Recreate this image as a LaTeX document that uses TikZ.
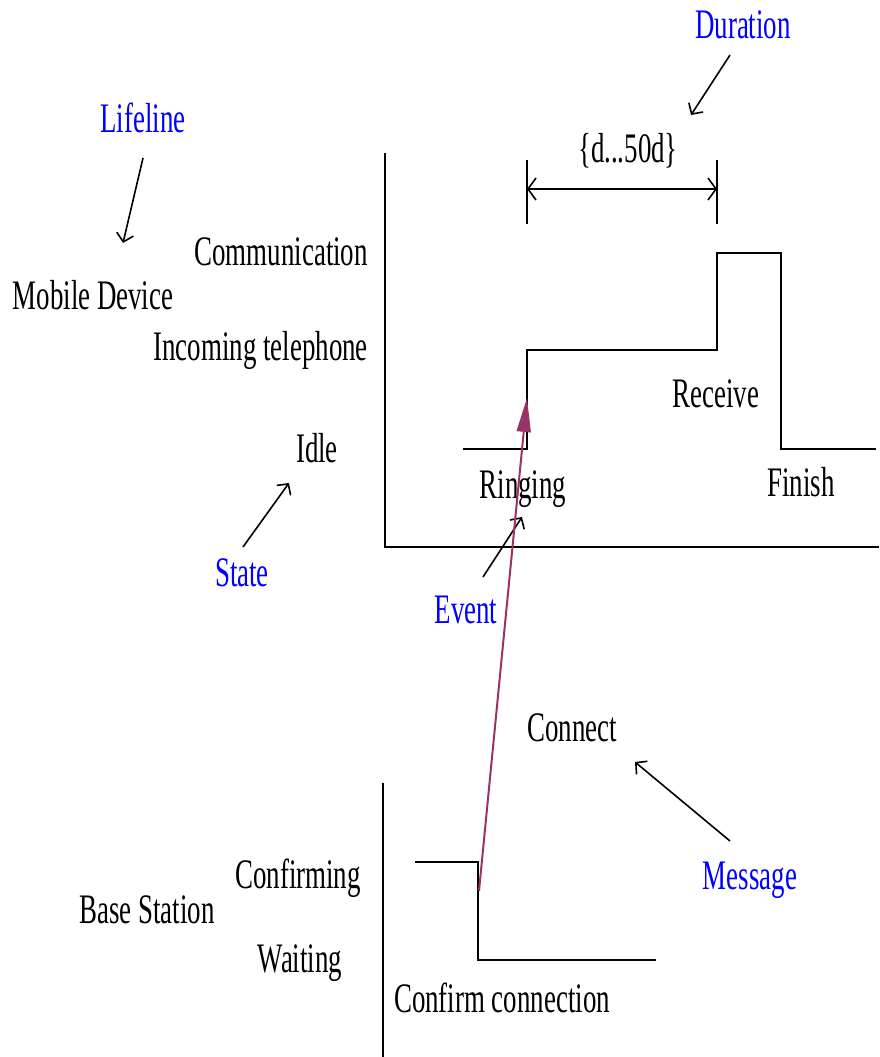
\documentclass[tikz,border=0pt]{standalone}
\usepackage{fontspec}
\setmainfont{Liberation Serif}[FakeStretch=0.64]
\usetikzlibrary{arrows.meta}
\definecolor{msgc}{HTML}{993366}
\begin{document}
\begin{tikzpicture}[x=1pt,y=-1pt,
  lbl/.style={font=\fontsize{42}{48}\selectfont, inner sep=0pt},
  note/.style={lbl, text=blue},
  wave/.style={line width=2pt, line join=miter},
  axis/.style={line width=2pt},
  ptr/.style={line width=1.6pt, -{Straight Barb[length=8pt,width=17pt,line width=1.6pt]}},
  dim/.style={line width=1.6pt, {Straight Barb[length=8pt,width=22pt,line width=1.6pt]}-{Straight Barb[length=8pt,width=22pt,line width=1.6pt]}},
  msg/.style={line width=2pt, draw=msgc, -{Triangle[length=34pt,width=14pt,fill=msgc]}}]
\useasboundingbox (0,0) rectangle (879,1057);
% axes
\coordinate (tA) at (385,153);
\coordinate (tO) at (385,547);
\coordinate (tX) at (879,547);
\draw[axis] (tA) -- (tO) -- (tX);
\coordinate (bA) at (383,783);
\coordinate (bO) at (383,1057);
\draw[axis] (bA) -- (bO);
% mobile device waveform
\coordinate (m0) at (463,449);
\coordinate (m1) at (527,449);
\coordinate (m2) at (527,350);
\coordinate (m3) at (717,350);
\coordinate (m4) at (717,253);
\coordinate (m5) at (781,253);
\coordinate (m6) at (781,449);
\coordinate (m7) at (876,449);
\draw[wave] (m0) -- (m1) -- (m2) -- (m3) -- (m4) -- (m5) -- (m6) -- (m7);
% base station waveform
\coordinate (b0) at (415,862);
\coordinate (b1) at (478,862);
\coordinate (b2) at (478,960);
\coordinate (b3) at (656,960);
\draw[wave] (b0) -- (b1) -- (b2) -- (b3);
% duration
\coordinate (d1t) at (527,160);
\coordinate (d1b) at (527,224);
\coordinate (d2t) at (717,160);
\coordinate (d2b) at (717,224);
\draw[line width=1.6pt] (d1t) -- (d1b);
\draw[line width=1.6pt] (d2t) -- (d2b);
\coordinate (dl) at (527,189);
\coordinate (dr) at (717,189);
\draw[dim] (dl) -- (dr);
\node[lbl, anchor=base] (range) at (628,162) {\{d...50d\}};
% state labels
\node[lbl, anchor=base east] (comm) at (368,265) {Communication};
\node[lbl, anchor=base east] (inc) at (368,360) {Incoming telephone};
\node[lbl, anchor=base] (idle) at (317,462) {Idle};
\node[lbl, anchor=base] (mob) at (93,309) {Mobile Device};
\node[lbl, anchor=base] (ring) at (523,498) {Ringing};
\node[lbl, anchor=base] (recv) at (716,407) {Receive};
\node[lbl, anchor=base] (fin) at (801,496) {Finish};
\node[lbl, anchor=base] (conn) at (572,741) {Connect};
\node[lbl, anchor=base east] (confm) at (361,888) {Confirming};
\node[lbl, anchor=base] (bs) at (147,923) {Base Station};
\node[lbl, anchor=base] (wait) at (300,972) {Waiting};
\node[lbl, anchor=base] (cc) at (502,1012) {Confirm connection};
% annotations
\node[note, anchor=base] (dur) at (743,38) {Duration};
\node[note, anchor=base] (life) at (143,132) {Lifeline};
\node[note, anchor=base] (state) at (242,586) {State};
\node[note, anchor=base] (event) at (466,623) {Event};
\node[note, anchor=base] (mess) at (750,889) {Message};
\coordinate (durS) at (730,55);   \coordinate (durE) at (691,115);
\coordinate (lifS) at (143,158);  \coordinate (lifE) at (123,243);
\coordinate (staS) at (243,547);  \coordinate (staE) at (289,483);
\coordinate (evS) at (483,577);   \coordinate (evE) at (522,517);
\coordinate (meS) at (730,841);   \coordinate (meE) at (635,762);
\draw[ptr] (durS) -- (durE);
\draw[ptr] (lifS) -- (lifE);
\draw[ptr] (staS) -- (staE);
\draw[ptr] (evS) -- (evE);
\draw[ptr] (meS) -- (meE);
% message
\coordinate (msgS) at (479,891);
\coordinate (msgE) at (527,398);
\draw[msg] (msgS) -- (msgE);
\end{tikzpicture}
\end{document}
